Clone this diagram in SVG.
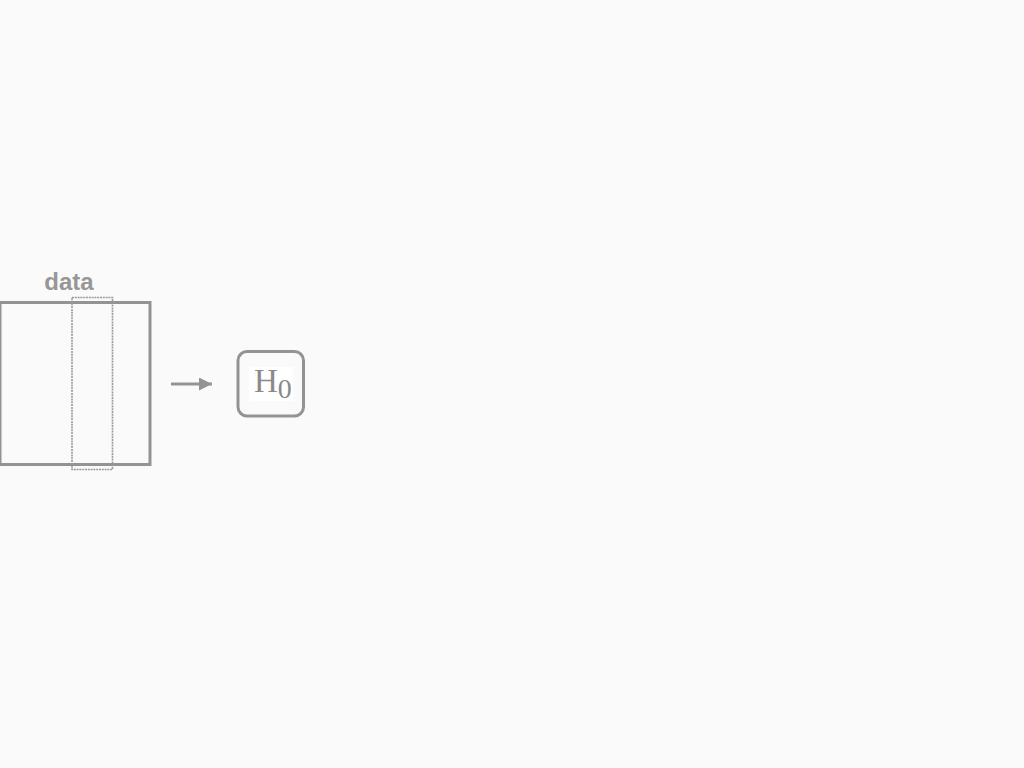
<svg xmlns="http://www.w3.org/2000/svg" width="1024" height="768" viewBox="0 0 1024 768">
<defs>
<style>
.ln{fill:none;stroke:#939393;stroke-width:3}
.sel{fill:none;stroke:#9a9a9a;stroke-width:1.6;stroke-dasharray:2 0.8}
.lbl{font-family:"Liberation Sans",Arial,sans-serif;font-weight:bold;font-size:24px;fill:#979797}
.math{font-family:"Liberation Serif","Times New Roman",serif;fill:#8a8a8a}
</style>
<marker id="ah" viewBox="0 0 13 13" refX="13" refY="6.5" markerWidth="13" markerHeight="13" markerUnits="userSpaceOnUse" orient="auto">
<path d="M0,0 L13,6.5 L0,13 Z" fill="#939393"/>
</marker>
</defs>
<rect width="1024" height="768" fill="#fafafa"/>
<g id="data">
<text class="lbl" x="69" y="290" text-anchor="middle">data</text>
<rect class="ln" x="0" y="302.5" width="150" height="162"/>
<rect class="sel" x="72" y="297.5" width="40.5" height="172"/>
</g>
<g id="connectors">
<line x1="171" y1="384" x2="212" y2="384" stroke="#939393" stroke-width="3" marker-end="url(#ah)"/>
</g>
<g id="H0">
<rect class="ln" x="238" y="351.5" width="65.5" height="64.5" rx="9"/>
<rect x="249" y="367" width="44" height="34" fill="#ffffff"/>
<text class="math" x="254" y="392" font-size="33">H<tspan font-size="28" dy="6">0</tspan></text>
</g>
</svg>
